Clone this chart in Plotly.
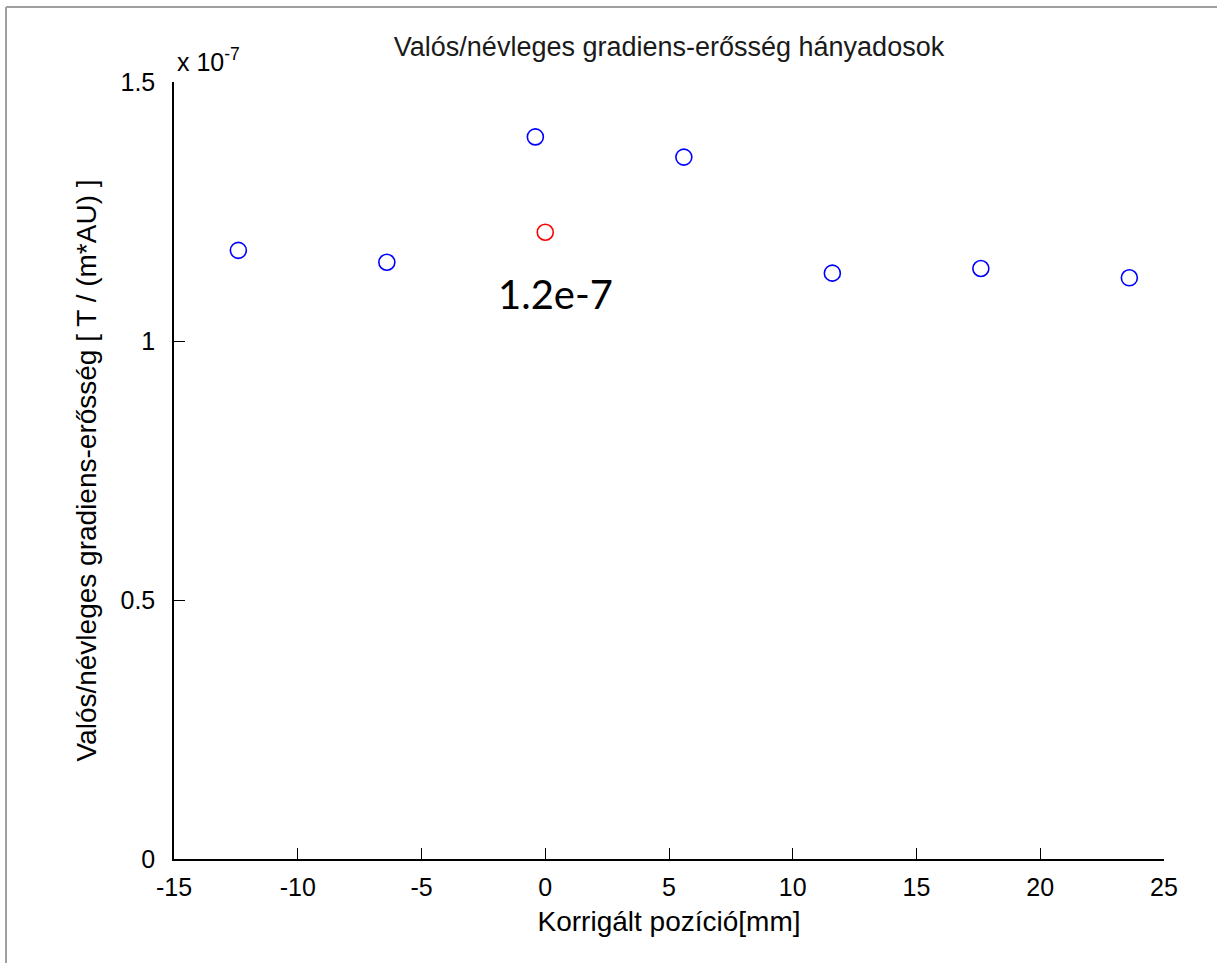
import plotly.graph_objects as go

# ---- data ----
pos_blue = [-12.4, -6.4, -0.4, 5.6, 11.6, 17.6, 23.6]
ratio_blue = [1.175e-7, 1.152e-7, 1.394e-7, 1.355e-7, 1.131e-7, 1.140e-7, 1.122e-7]
pos_red = [0.0]
ratio_red = [1.210e-7]
label_text = "1.2e-7"
label_pos = (-2.0, 1.09e-7)

x_ticks = [-15, -10, -5, 0, 5, 10, 15, 20, 25]
x_ticktext = ["-15", "-10", "-5", "0", "5", "10", "15", "20", "25"]
y_tickvals = [0, 0.5e-7, 1.0e-7, 1.5e-7]
y_ticktext = ["0", "0.5", "1", "1.5"]

title_text = "Valós/névleges gradiens-erősség hányadosok"
x_title = "Korrigált pozíció[mm]"
y_title = "Valós/névleges gradiens-erősség [ T / (m*AU) ]"

FONT = "Liberation Sans, Arial, sans-serif"

fig = go.Figure()
fig.add_trace(go.Scatter(
    x=pos_blue, y=ratio_blue, mode="markers",
    marker=dict(symbol="circle-open", size=16, color="#0000ff", line=dict(width=1.6, color="#0000ff")),
    showlegend=False, hoverinfo="x+y",
))
fig.add_trace(go.Scatter(
    x=pos_red, y=ratio_red, mode="markers",
    marker=dict(symbol="circle-open", size=16, color="#ff0000", line=dict(width=1.6, color="#ff0000")),
    showlegend=False, hoverinfo="x+y",
))

fig.add_annotation(
    x=label_pos[0], y=label_pos[1], xref="x", yref="y", text=label_text,
    showarrow=False, xanchor="left", yanchor="middle",
    font=dict(family="Lato, Carlito, sans-serif", size=40, color="#000000"),
)
fig.add_annotation(
    x=0, y=1, xref="paper", yref="paper", text="x 10<sup>-7</sup>",
    showarrow=False, xanchor="left", yanchor="bottom", xshift=1, yshift=4,
    font=dict(family=FONT, size=25, color="#000000"),
)

axis_common = dict(
    showgrid=False, zeroline=False, showline=True, linecolor="#000000", linewidth=1.5,
    ticks="inside", ticklen=11, tickwidth=1.2, tickcolor="#000000", mirror=False,
    tickfont=dict(family=FONT, size=25, color="#000000"),
)
fig.update_xaxes(range=[-15, 25], tickvals=x_ticks, ticktext=x_ticktext, ticklabelstandoff=5,
                 title=dict(text=x_title, font=dict(family=FONT, size=28, color="#000000"), standoff=12),
                 **axis_common)
fig.update_yaxes(range=[0, 1.5e-7], tickvals=y_tickvals, ticktext=y_ticktext, ticklabelstandoff=12,
                 title=dict(text=y_title, font=dict(family=FONT, size=28, color="#000000"), standoff=16),
                 **axis_common)

fig.update_layout(
    width=1217, height=963,
    margin=dict(l=174, r=53, t=82, b=104),
    paper_bgcolor="#ffffff", plot_bgcolor="#ffffff",
    title=dict(text=title_text, x=(174 + 1164) / 2 / 1217, xanchor="center", y=1 - 47 / 963, yanchor="middle",
               font=dict(family=FONT, size=27, color="#1a1a1a")),
    shapes=[
        dict(type="line", xref="paper", yref="paper", x0=(6 - 174) / 990, x1=(1217 - 174) / 990,
             y0=(859 - 7) / 777, y1=(859 - 7) / 777, line=dict(color="#a0a0a0", width=2)),
        dict(type="line", xref="paper", yref="paper", x0=(6 - 174) / 990, x1=(6 - 174) / 990,
             y0=(859 - 7) / 777, y1=(859 - 963) / 777, line=dict(color="#a0a0a0", width=2)),
    ],
)

fig.write_html("out.html", config={"displayModeBar": False},
               post_script="document.body.style.margin='0';")
